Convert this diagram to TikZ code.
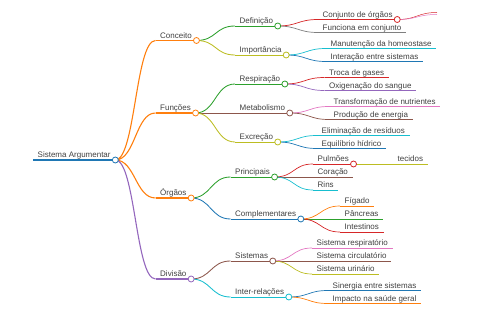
\documentclass[tikz,border=0pt]{standalone}
\usepackage{fontspec}
\setmainfont{Liberation Sans}
\usetikzlibrary{backgrounds}
\definecolor{mmblue}{HTML}{1F77B4}
\definecolor{mmorange}{HTML}{FF7F0E}
\definecolor{mmgreen}{HTML}{2CA02C}
\definecolor{mmred}{HTML}{D62728}
\definecolor{mmpurple}{HTML}{9467BD}
\definecolor{mmbrown}{HTML}{8C564B}
\definecolor{mmpink}{HTML}{E377C2}
\definecolor{mmgray}{HTML}{7F7F7F}
\definecolor{mmolive}{HTML}{BCBD22}
\definecolor{mmcyan}{HTML}{17BECF}
\definecolor{txtgray}{HTML}{404040}
\tikzset{
  topic/.style 2 args = {anchor=south west, inner xsep=4.5pt, inner ysep=0pt,
                         text height=6pt, text depth=2pt, text=txtgray,
                         font=\fontsize{8}{9.6}\selectfont,
                         append after command={(\tikzlastnode.south west)
                           edge[draw=#1, line width=#2] (\tikzlastnode.south east)}},
  branch/.style 2 args = {topic={#1}{#2},
                          append after command={(\tikzlastnode.south east)
                            node[knob=#1] {}}},
  knob/.style = {circle, draw=#1, fill=white, minimum size=6pt,
                 inner sep=0pt, line width=0.8pt},
  link/.style = {draw=#1, to path={.. controls +(20,0) and +(-20,0) .. (\tikztotarget)}}
}

\begin{document}
\begin{tikzpicture}[x=1pt, y=-1pt]
  \useasboundingbox (0,0) rectangle (480,320);
  % root
  \node[branch={mmblue}{1.6pt}]   (root)  at (33,160)    {Sistema Argumentar};
  % first level
  \node[branch={mmorange}{1.1pt}] (conc)  at (155.5,40.5) {Conceito};
  \node[branch={mmorange}{1.1pt}] (func)  at (155.5,113)  {Funções};
  \node[branch={mmorange}{1.1pt}] (orgs)  at (155.5,198)  {Órgãos};
  \node[branch={mmpurple}{1.1pt}] (divi)  at (155.5,279)  {Divisão};
  % second level
  \node[branch={mmgreen}{0.85pt}]    (defi)  at (235,26)     {Definição};
  \node[branch={mmolive}{0.85pt}]    (impo)  at (235,55)     {Importância};
  \node[branch={mmgreen}{0.85pt}]    (resp)  at (235,84)     {Respiração};
  \node[branch={mmbrown}{0.85pt}]    (meta)  at (235,113)    {Metabolismo};
  \node[branch={mmolive}{0.85pt}]    (excr)  at (235,142)    {Excreção};
  \node[branch={mmgreen}{0.85pt}]    (prin)  at (230.5,177)  {Principais};
  \node[branch={mmblue}{0.85pt}]     (comp)  at (230.5,219)  {Complementares};
  \node[branch={mmbrown}{0.85pt}]    (sist)  at (230.5,261)  {Sistemas};
  \node[branch={mmcyan}{0.85pt}]     (inte)  at (230.5,297)  {Inter-relações};
  % third level
  \node[branch={mmred}{0.7pt}]    (conj)  at (318,19.5)   {Conjunto de órgãos};
  \node[topic={mmgray}{0.7pt}]    (funci) at (318,32.5)   {Funciona em conjunto};
  \node[topic={mmcyan}{0.7pt}]    (manu)  at (326,48.5)   {Manutenção da homeostase};
  \node[topic={mmblue}{0.7pt}]    (intr)  at (326,61.5)   {Interação entre sistemas};
  \node[topic={mmred}{0.7pt}]     (troc)  at (324.5,77.5) {Troca de gases};
  \node[topic={mmpurple}{0.7pt}]  (oxig)  at (324.5,90.5) {Oxigenação do sangue};
  \node[topic={mmpink}{0.7pt}]    (tran)  at (329,106.5)  {Transformação de nutrientes};
  \node[topic={mmbrown}{0.7pt}]   (prod)  at (329,119.5)  {Produção de energia};
  \node[topic={mmcyan}{0.7pt}]    (elim)  at (317,135.5)  {Eliminação de resíduos};
  \node[topic={mmblue}{0.7pt}]    (equi)  at (317,148.5)  {Equilíbrio hídrico};
  \node[branch={mmred}{0.7pt}]    (pulm)  at (313,164)    {Pulmões};
  \node[topic={mmbrown}{0.7pt}]   (cora)  at (313,177)    {Coração};
  \node[topic={mmcyan}{0.7pt}]    (rins)  at (313,190)    {Rins};
  \node[topic={mmorange}{0.7pt}]  (figa)  at (340,206)    {Fígado};
  \node[topic={mmgreen}{0.7pt}]   (panc)  at (340,219)    {Pâncreas};
  \node[topic={mmred}{0.7pt}]     (intes) at (340,232)    {Intestinos};
  \node[topic={mmpink}{0.7pt}]    (sresp) at (312,248)    {Sistema respiratório};
  \node[topic={mmbrown}{0.7pt}]   (scirc) at (312,261)    {Sistema circulatório};
  \node[topic={mmolive}{0.7pt}]   (surin) at (312,274)    {Sistema urinário};
  \node[topic={mmblue}{0.7pt}]    (sine)  at (328,290.5)  {Sinergia entre sistemas};
  \node[topic={mmorange}{0.7pt}]  (impa)  at (328,303.5)  {Impacto na saúde geral};
  % fourth level
  \node[topic={mmolive}{0.7pt}]   (teci)  at (393,164)    {tecidos};
  \coordinate (conja) at (437,12.5);
  \coordinate (conjb) at (437,14.5);

  \begin{scope}[on background layer]
    \draw[link=mmorange, line width=1.1pt] (root.south east) to (conc.south west);
    \draw[link=mmorange, line width=1.1pt] (root.south east) to (func.south west);
    \draw[link=mmorange, line width=1.1pt] (root.south east) to (orgs.south west);
    \draw[link=mmpurple, line width=1.1pt] (root.south east) to (divi.south west);
    \draw[link=mmgreen, line width=0.85pt] (conc.south east) to (defi.south west);
    \draw[link=mmolive, line width=0.85pt] (conc.south east) to (impo.south west);
    \draw[link=mmgreen, line width=0.85pt] (func.south east) to (resp.south west);
    \draw[link=mmbrown, line width=0.85pt] (func.south east) to (meta.south west);
    \draw[link=mmolive, line width=0.85pt] (func.south east) to (excr.south west);
    \draw[link=mmgreen, line width=0.85pt] (orgs.south east) to (prin.south west);
    \draw[link=mmblue,  line width=0.85pt] (orgs.south east) to (comp.south west);
    \draw[link=mmbrown, line width=0.85pt] (divi.south east) to (sist.south west);
    \draw[link=mmcyan,  line width=0.85pt] (divi.south east) to (inte.south west);
    \draw[link=mmred,    line width=0.7pt] (defi.south east) to (conj.south west);
    \draw[link=mmgray,   line width=0.7pt] (defi.south east) to (funci.south west);
    \draw[link=mmcyan,   line width=0.7pt] (impo.south east) to (manu.south west);
    \draw[link=mmblue,   line width=0.7pt] (impo.south east) to (intr.south west);
    \draw[link=mmred,    line width=0.7pt] (resp.south east) to (troc.south west);
    \draw[link=mmpurple, line width=0.7pt] (resp.south east) to (oxig.south west);
    \draw[link=mmpink,   line width=0.7pt] (meta.south east) to (tran.south west);
    \draw[link=mmbrown,  line width=0.7pt] (meta.south east) to (prod.south west);
    \draw[link=mmcyan,   line width=0.7pt] (excr.south east) to (elim.south west);
    \draw[link=mmblue,   line width=0.7pt] (excr.south east) to (equi.south west);
    \draw[link=mmred,    line width=0.7pt] (prin.south east) to (pulm.south west);
    \draw[link=mmbrown,  line width=0.7pt] (prin.south east) to (cora.south west);
    \draw[link=mmcyan,   line width=0.7pt] (prin.south east) to (rins.south west);
    \draw[link=mmorange, line width=0.7pt] (comp.south east) to (figa.south west);
    \draw[link=mmgreen,  line width=0.7pt] (comp.south east) to (panc.south west);
    \draw[link=mmred,    line width=0.7pt] (comp.south east) to (intes.south west);
    \draw[link=mmpink,   line width=0.7pt] (sist.south east) to (sresp.south west);
    \draw[link=mmbrown,  line width=0.7pt] (sist.south east) to (scirc.south west);
    \draw[link=mmolive,  line width=0.7pt] (sist.south east) to (surin.south west);
    \draw[link=mmblue,   line width=0.7pt] (inte.south east) to (sine.south west);
    \draw[link=mmorange, line width=0.7pt] (inte.south east) to (impa.south west);
    \draw[link=mmolive,  line width=0.7pt] (pulm.south east) to (teci.south west);
    \draw[link=mmred,    line width=0.5pt] (conj.south east) to (conja);
    \draw[link=mmpink,   line width=0.5pt] (conj.south east) to (conjb);
  \end{scope}
\end{tikzpicture}
\end{document}
